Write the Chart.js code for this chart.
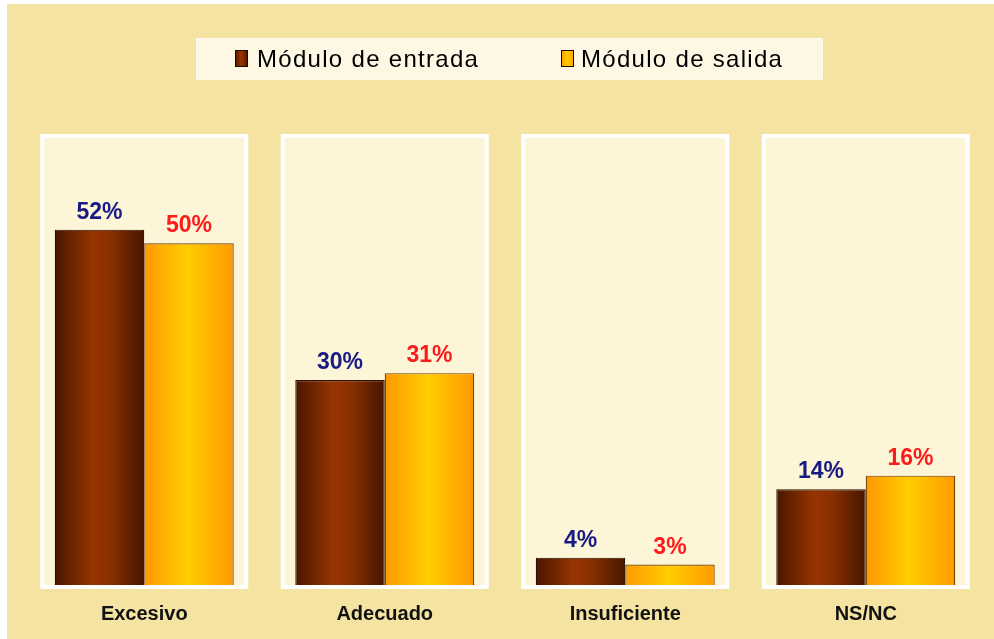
<!DOCTYPE html>
<html><head><meta charset="utf-8">
<script src="https://cdn.jsdelivr.net/npm/chart.js@4.4.1/dist/chart.umd.min.js"></script>
<style>html,body{margin:0;padding:0;background:#fff;}canvas{display:block}</style>
</head><body>
<canvas id="c" width="994" height="639"></canvas>
<script>
const categories = ['Excesivo', 'Adecuado', 'Insuficiente', 'NS/NC'];
const seriesNames = ['Módulo de entrada', 'Módulo de salida'];
const entrada = [52, 30, 4, 14];
const salida = [50, 31, 3, 16];
const yMax = 66;

const labelColors = ['#1a1a85', '#ff1a1a'];
const gradStops = [
  [[0, '#481700'], [0.42, '#963400'], [0.62, '#8a3000'], [1, '#451600']],
  [[0, '#ff9800'], [0.48, '#ffcd00'], [1, '#ff9a00']]
];
const borderCols = ['#2a0f00', '#6e3f00'];

function makeGrad(ctx, left, width, stops) {
  const g = ctx.createLinearGradient(left, 0, left + width, 0);
  stops.forEach(s => g.addColorStop(s[0], s[1]));
  return g;
}

const bgPlugin = {
  id: 'bg',
  beforeDraw(chart) {
    const ctx = chart.ctx;
    ctx.save();
    ctx.fillStyle = '#ffffff';
    ctx.fillRect(0, 0, chart.width, chart.height);
    ctx.fillStyle = '#f5e3a2';
    ctx.fillRect(7, 4, chart.width - 7, chart.height - 4);
    ctx.restore();
  }
};

const panelPlugin = {
  id: 'panels',
  beforeDatasetsDraw(chart) {
    const ctx = chart.ctx, xs = chart.scales.x, ca = chart.chartArea;
    const catW = (ca.right - ca.left) / categories.length;
    const half = catW * 0.865 / 2;
    ctx.save();
    categories.forEach((c, i) => {
      const cx = xs.getPixelForValue(i);
      ctx.fillStyle = '#ffffff';
      ctx.fillRect(cx - half, ca.top, half * 2, ca.bottom - ca.top + 4);
      ctx.fillStyle = '#fcf5d8';
      ctx.fillRect(cx - half + 4, ca.top + 4, half * 2 - 8, ca.bottom - ca.top - 4);
    });
    ctx.restore();
    chart.data.datasets.forEach((ds, di) => {
      const meta = chart.getDatasetMeta(di);
      meta.data.forEach(el => {
        const p = el.getProps(['x', 'width'], true);
        const g = makeGrad(ctx, p.x - p.width / 2, p.width, gradStops[di]);
        el.options = Object.assign({}, el.options, { backgroundColor: g });
      });
    });
  }
};

const valuePlugin = {
  id: 'values',
  afterDatasetsDraw(chart) {
    const ctx = chart.ctx;
    ctx.save();
    ctx.font = 'bold 23px "Liberation Sans", Arial, sans-serif';
    ctx.textAlign = 'center';
    ctx.textBaseline = 'alphabetic';
    chart.data.datasets.forEach((ds, di) => {
      const meta = chart.getDatasetMeta(di);
      meta.data.forEach((el, i) => {
        const p = el.getProps(['x', 'y'], true);
        ctx.fillStyle = labelColors[di];
        ctx.fillText(ds.data[i] + '%', p.x, p.y - 11);
      });
    });
    ctx.restore();
  }
};

const legendPlugin = {
  id: 'customLegend',
  afterDraw(chart) {
    const ctx = chart.ctx;
    ctx.save();
    ctx.fillStyle = '#fdf7e3';
    ctx.fillRect(196, 38, 627, 42);
    ctx.strokeStyle = '#fffaf0';
    ctx.lineWidth = 1;
    ctx.strokeRect(196.5, 38.5, 626, 41);
    const items = [{ mx: 235, tx: 257 }, { mx: 561, tx: 581 }];
    ctx.font = '24px "Liberation Sans", Arial, sans-serif';
    ctx.letterSpacing = '1.3px';
    ctx.textBaseline = 'alphabetic';
    chart.data.datasets.forEach((ds, di) => {
      const it = items[di];
      ctx.fillStyle = makeGrad(ctx, it.mx, 13, gradStops[di]);
      ctx.fillRect(it.mx, 50, 13, 17);
      ctx.strokeStyle = '#1a0a00';
      ctx.strokeRect(it.mx + 0.5, 50.5, 12, 16);
      ctx.fillStyle = '#000000';
      ctx.fillText(ds.label, it.tx, 67);
    });
    ctx.restore();
  }
};

new Chart(document.getElementById('c'), {
  type: 'bar',
  data: {
    labels: categories,
    datasets: [
      { label: seriesNames[0], data: entrada, backgroundColor: '#8a3000', borderColor: borderCols[0], borderWidth: 1.2 },
      { label: seriesNames[1], data: salida, backgroundColor: '#ffc000', borderColor: borderCols[1], borderWidth: 1.2 }
    ]
  },
  options: {
    responsive: false,
    animation: false,
    events: [],
    layout: { padding: { top: 134, left: 24, right: 8, bottom: 12 } },
    datasets: { bar: { categoryPercentage: 0.744, barPercentage: 1.0 } },
    plugins: { legend: { display: false }, tooltip: { enabled: false } },
    scales: {
      x: {
        grid: { display: false, drawTicks: false },
        border: { display: false },
        afterFit: (s) => { s.height = 42; },
        ticks: { padding: 17, color: '#111111', font: { family: '"Liberation Sans", Arial, sans-serif', size: 20, weight: 'bold' } }
      },
      y: { display: false, min: 0, max: yMax }
    }
  },
  plugins: [bgPlugin, panelPlugin, valuePlugin, legendPlugin]
});
</script>
</body></html>
